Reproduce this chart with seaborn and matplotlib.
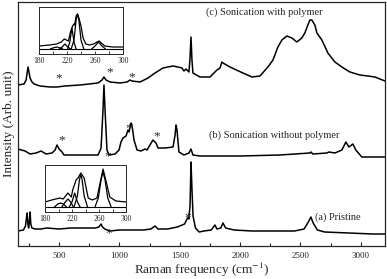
import numpy as np
import pandas as pd
import matplotlib
matplotlib.use("Agg")
import matplotlib.pyplot as plt
from matplotlib.ticker import MultipleLocator
import seaborn as sns

# --- main spectra (Raman shift in cm-1, intensity in arbitrary stacked units) ---
pristine_x = [160, 205, 222, 230, 236, 242, 248, 254, 260, 266, 275, 300, 350, 400, 500, 600,
              700, 800, 830, 848, 860, 880, 920, 1000, 1100, 1200, 1260, 1295, 1320, 1400,
              1480, 1540, 1568, 1575, 1585, 1593, 1600, 1610, 1630, 1660, 1700, 1760, 1791,
              1808, 1840, 1858, 1880, 1950, 2100, 2300, 2450, 2530, 2565, 2586, 2605, 2640,
              2700, 2900, 3100, 3200]
pristine_y = [15, 16, 20, 28, 33, 22, 18, 24, 34, 22, 18, 17, 17, 18, 17, 18,
              18, 18, 19, 22, 19, 17, 15, 16, 16, 16, 17, 20, 17, 17,
              19, 22, 29, 27, 40, 84, 60, 30, 18, 14, 15, 16, 21,
              17, 18, 23, 18, 16, 15, 15, 15, 17, 24, 29, 23, 16,
              14, 13, 12, 12]

no_polymer_x = [160, 218, 260, 310, 351, 392, 442, 467, 483, 500, 525, 541, 591, 757, 823,
                848, 864, 872, 881, 897, 914, 964, 997, 1013, 1030, 1055, 1071, 1080, 1096,
                1104, 1121, 1146, 1179, 1212, 1229, 1253, 1278, 1303, 1320, 1378, 1444, 1461,
                1469, 1477, 1493, 1535, 1576, 1593, 1609, 1667, 2000, 2329, 2578, 2586, 2603,
                2719, 2735, 2785, 2843, 2876, 2901, 2934, 2958, 3008, 3200]
no_polymer_y = [97, 95, 92, 93, 95, 92, 93, 96, 101, 97, 94, 91, 91, 91, 91,
                98, 136, 161, 136, 96, 91, 92, 96, 104, 108, 110, 116, 114, 123,
                121, 106, 96, 95, 97, 96, 101, 106, 103, 98, 98, 99, 111,
                121, 116, 94, 91, 93, 97, 91, 90, 90, 91, 93, 94, 92,
                93, 94, 93, 96, 104, 99, 102, 96, 89, 89]

polymer_x = [160, 210, 227, 243, 260, 276, 293, 343, 425, 483, 550, 674, 823, 856, 872, 889,
             922, 1005, 1063, 1088, 1104, 1171, 1237, 1295, 1361, 1444, 1485, 1518, 1535,
             1551, 1576, 1584, 1593, 1601, 1609, 1667, 1750, 1808, 1833, 1849, 1858, 1916,
             2023, 2098, 2164, 2230, 2272, 2313, 2346, 2387, 2429, 2470, 2511, 2536, 2561,
             2578, 2594, 2619, 2636, 2677, 2727, 2785, 2843, 2909, 2992, 3058, 3116, 3200]
polymer_y = [161, 162, 166, 179, 168, 164, 162, 160, 159, 159, 160, 161, 163, 166, 169, 166,
             164, 163, 164, 166, 165, 164, 168, 173, 178, 180, 179, 178, 175,
             177, 174, 186, 209, 186, 173, 169, 169, 176, 178, 184, 183, 179,
             173, 169, 170, 179, 186, 199, 206, 210, 208, 204, 208, 213, 221,
             226, 226, 221, 213, 206, 193, 184, 179, 174, 171, 170, 169, 165]

# asterisk markers
star_x = [500, 922, 1104, 525, 905, 1080, 1305, 910, 1568]
star_y = [168, 174, 169, 106, 90, 118, 110, 13, 29]

labels = ["(c) Sonication with polymer", "(b) Sonication without polymer", "(a) Pristine"]
label_x = [2200, 2280, 2810]
label_y = [234, 111, 29]

# --- inset (top): RBM region of the polymer sample ---
in1_x = [180, 195, 205, 212, 216, 219, 222, 225, 228, 230, 231, 233, 235, 237, 240, 243,
         247, 252, 258, 263, 266, 269, 274, 285, 300]
in1_y = [8, 9, 10, 12, 15, 14, 13, 22, 28, 30, 29, 38, 40, 36, 28, 16,
         10, 9, 10, 12, 13, 11, 8, 7, 7]
in1_fits = [
    ([196, 202, 206, 210, 214], [5, 6.5, 7, 6, 5]),
    ([209, 213, 217, 221, 225], [5, 7, 10, 7, 5]),
    ([221, 224, 227, 230, 233], [5, 12, 26, 12, 5]),
    ([226, 230, 233, 235, 237, 240, 244], [5, 14, 34, 40, 34, 14, 5]),
    ([255, 260, 265, 270, 275], [5, 8, 12, 8, 5]),
]

# --- inset (bottom): RBM region of the pristine sample ---
in2_x = [180, 190, 202, 207, 214, 219, 221, 226, 229, 233, 238, 244, 250, 257, 261, 266,
         270, 276, 285, 300]
in2_y = [10, 12, 14, 13, 19, 15, 22, 32, 34, 39, 34, 14, 12, 14, 27, 43,
         32, 15, 11, 10]
in2_fits = [
    ([194, 199, 203, 207, 212], [5, 8, 9, 8, 5]),
    ([205, 210, 214, 218, 222], [5, 10, 13, 10, 5]),
    ([216, 220, 224, 228, 232], [5, 10, 19, 10, 5]),
    ([223, 228, 231, 233, 235, 238, 243], [5, 16, 32, 38, 32, 16, 5]),
    ([254, 259, 263, 266, 269, 273, 278], [5, 14, 32, 40, 32, 14, 5]),
]
inset_ticks = [180, 220, 260, 300]
inset_minor = [200, 240, 280]

sns.set_style("ticks")
plt.rcParams['font.family'] = ['Liberation Serif', 'DejaVu Serif']
plt.rcParams['mathtext.fontset'] = 'stix'

fig = plt.figure(figsize=(3.87, 2.79), dpi=100)
ax = fig.add_axes([18 / 387, 33 / 279, 367 / 387, 244 / 279])

lw = 1.1
for xs, ys in [(pristine_x, pristine_y), (no_polymer_x, no_polymer_y), (polymer_x, polymer_y)]:
    df = pd.DataFrame({"shift": xs, "intensity": ys})
    sns.lineplot(data=df, x="shift", y="intensity", color="black", lw=lw, ax=ax)

for sx, sy in zip(star_x, star_y):
    ax.text(sx, sy, "*", ha="center", va="center", fontsize=9.5)

for t, tx, ty in zip(labels, label_x, label_y):
    ax.text(tx, ty, t, ha="center", va="center", fontsize=7.5)

ax.set_xlim(160, 3200)
ax.set_ylim(0, 244)
ax.set_yticks([])
ax.xaxis.set_major_locator(MultipleLocator(500))
ax.xaxis.set_minor_locator(MultipleLocator(250))
ax.tick_params(axis="x", which="both", direction="in", labelsize=6.5, width=0.8, pad=4)
ax.tick_params(axis="x", which="major", length=3)
ax.tick_params(axis="x", which="minor", length=2)
ax.set_xlabel("Raman frequency (cm$^{-1}$)", fontsize=9.5, labelpad=1)
ax.set_ylabel("Intensity (Arb. unit)", fontsize=9.5, labelpad=2)
for s in ax.spines.values():
    s.set_linewidth(0.9)


def draw_inset(rect, xs, ys, fits):
    ins = fig.add_axes(rect)
    ins.set_facecolor("white")
    sns.lineplot(x=xs, y=ys, color="black", lw=0.9, ax=ins)
    for fx, fy in fits:
        sns.lineplot(x=fx, y=fy, color="black", lw=0.9, ax=ins)
    ins.axhline(5, color="black", lw=0.8)
    ins.set_xlim(180, 300)
    ins.set_ylim(0, 47)
    ins.set_yticks([])
    ins.set_xticks(inset_ticks)
    ins.set_xticks(inset_minor, minor=True)
    ins.tick_params(axis="x", which="both", direction="in", labelsize=5.5, length=2,
                    width=0.6, pad=2)
    for s in ins.spines.values():
        s.set_linewidth(0.7)
    return ins


draw_inset([39 / 387, 225 / 279, 84 / 387, 47 / 279], in1_x, in1_y, in1_fits)
draw_inset([45 / 387, 67 / 279, 81 / 387, 47 / 279], in2_x, in2_y, in2_fits)

plt.savefig("out.png", dpi=100)
